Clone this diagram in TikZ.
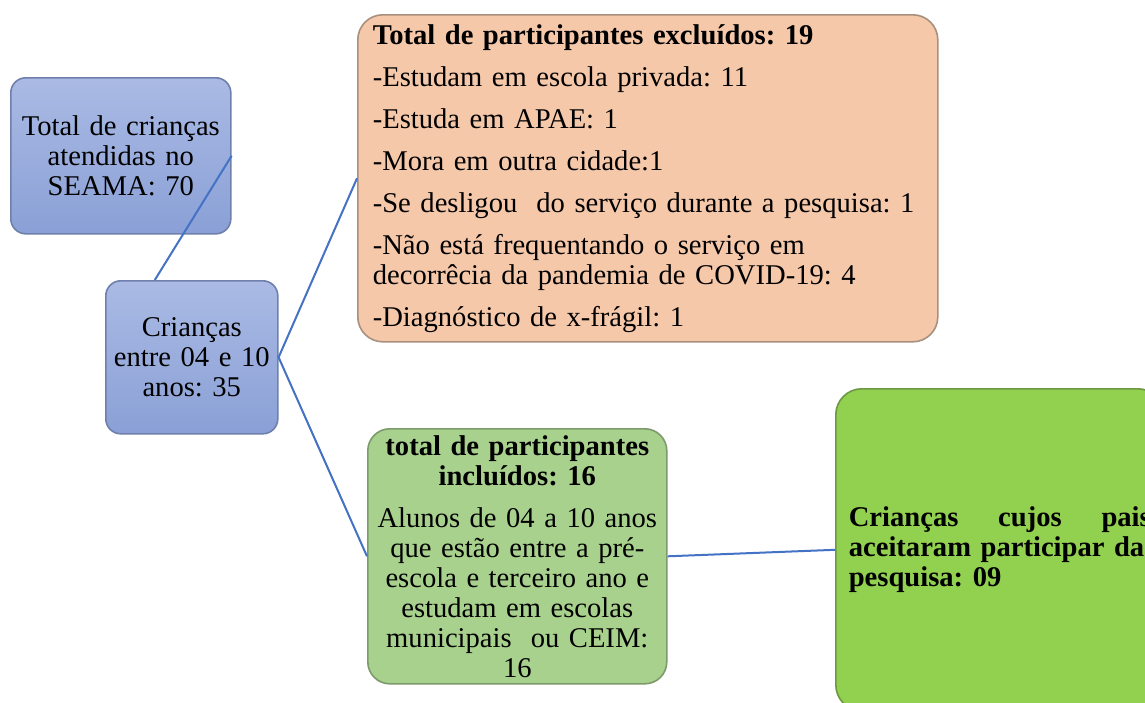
\documentclass[tikz,border=0pt]{standalone}
\usepackage{fontspec}
\setmainfont{Liberation Serif}
\frenchspacing
\definecolor{linkblue}{HTML}{4472C4}
\definecolor{bluetop}{HTML}{AABAE4}
\definecolor{bluebot}{HTML}{8AA0D6}
\definecolor{blueline}{HTML}{6F80AC}
\definecolor{excfill}{HTML}{F6C8AA}
\definecolor{excline}{HTML}{A8907F}
\definecolor{incfill}{HTML}{A9D18E}
\definecolor{incline}{HTML}{7C9A6B}
\definecolor{aceitfill}{HTML}{92D050}
\definecolor{aceitline}{HTML}{6E9842}
\tikzset{
	bluebox/.style={draw=blueline, line width=0.8pt, top color=bluetop, bottom color=bluebot, rounded corners=7.5pt, anchor=north west, align=center},
	excbox/.style={draw=excline, line width=0.8pt, fill=excfill, rounded corners=12.5pt, anchor=north west, align=left, inner xsep=7.5pt},
	incbox/.style={draw=incline, line width=0.8pt, fill=incfill, rounded corners=11pt, anchor=north west, align=center},
	aceitbox/.style={draw=aceitline, line width=0.8pt, fill=aceitfill, rounded corners=13pt, anchor=north west, align=left, inner xsep=6.5pt},
	link/.style={draw=linkblue, line width=1pt}
}
\begin{document}
\begin{tikzpicture}[x=0.5pt, y=-0.5pt, every node/.style={font=\fontsize{14.3}{15}\selectfont, inner sep=0pt}]
	\clip (0,0) rectangle (1145,702);
	\fill[white] (0,0) rectangle (1145,702);
	\node[bluebox, minimum width=110pt, minimum height=78pt, text width=104pt] (atend) at (10,77) {Total de crianças\\atendidas no\\SEAMA: 70};
	\node[bluebox, minimum width=86pt, minimum height=76.5pt, text width=82pt] (crian) at (105,280) {Crianças\\entre 04 e 10\\anos: 35};
	\node[excbox, minimum width=290pt, minimum height=163.5pt, text width=275pt] (excl) at (357,14) {\textbf{Total de participantes excluídos: 19}\\[6pt]-Estudam em escola privada: 11\\[6pt]-Estuda em APAE: 1\\[6pt]-Mora em outra cidade:1\\[6pt]-Se desligou\ \ do serviço durante a pesquisa: 1\\[6pt]-Não está frequentando o serviço em\\decorrêcia da pandemia de COVID-19: 4\\[6pt]-Diagnóstico de x-frágil: 1};
	\node[incbox, minimum width=149.5pt, minimum height=127.5pt, text width=145pt] (incl) at (367,428) {\textbf{total de participantes}\\\textbf{incluídos: 16}\\[6pt]Alunos de 04 a 10 anos\\que estão entre a pré-\\escola e terceiro ano e\\estudam em escolas\\municipais\ \ ou CEIM:\\16};
	\node[aceitbox, minimum width=164pt, minimum height=161pt, text width=151pt, font=\fontsize{14.3}{15}\selectfont\bfseries] (aceit) at (835,388) {\hbox to 151pt{Crianças\hfil cujos\hfil pais}\\aceitaram participar da\\pesquisa: 09};
	\coordinate (crianTop) at ([xshift=-18.5pt]crian.north);
	\draw[link] (atend.east) -- (crianTop);
	\draw[link] (crian.east) -- (excl.west);
	\draw[link] (crian.east) -- (incl.west);
	\draw[link] (incl.east) -- (aceit.west);
\end{tikzpicture}
\end{document}
